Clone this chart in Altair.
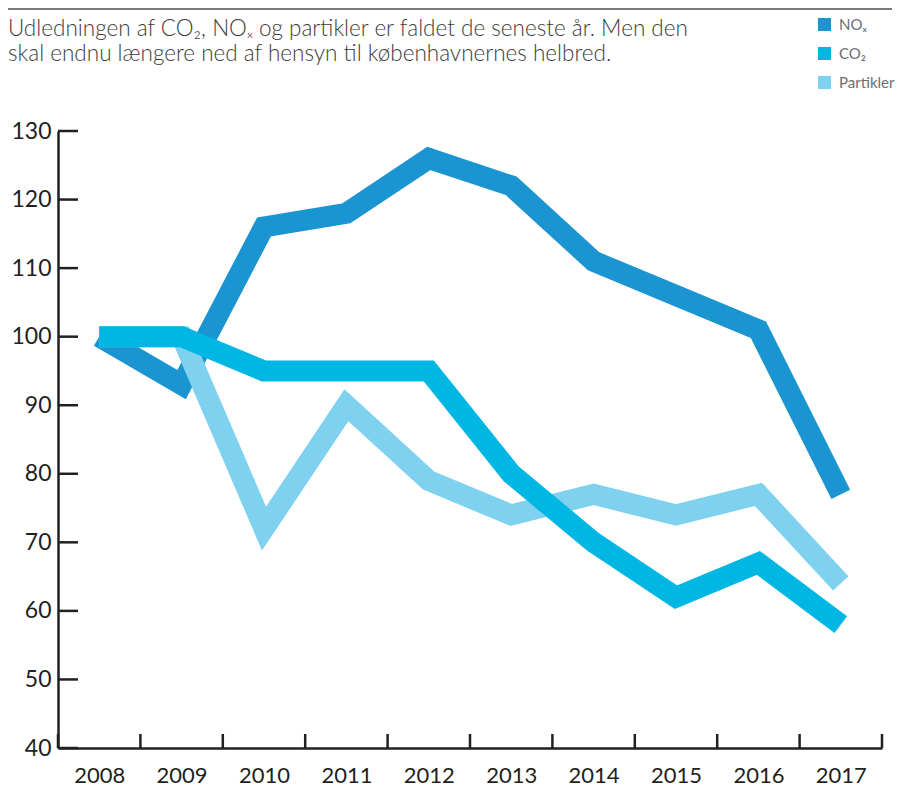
import altair as alt
import pandas as pd

years = [2008, 2009, 2010, 2011, 2012, 2013, 2014, 2015, 2016, 2017]
nox = [100, 93, 116, 118, 126, 122, 111, 106, 101, 77]
co2 = [100, 100, 95, 95, 95, 80, 70, 62, 67, 58]
partikler = [100, 100, 72, 90, 79, 74, 77, 74, 77, 64]

series_names = ["NOₓ", "CO₂", "Partikler"]
series_colors = ["#1b95d1", "#00b7e4", "#7fd2ef"]
y_ticks = [40, 50, 60, 70, 80, 90, 100, 110, 120, 130]
x_edges = [2007.5, 2008.5, 2009.5, 2010.5, 2011.5, 2012.5, 2013.5, 2014.5, 2015.5, 2016.5, 2017.5]

title_lines = [
    "Udledningen af CO₂, NOₓ og partikler er faldet de seneste år. Men den",
    "skal endnu længere ned af hensyn til københavnernes helbred.",
]

rows = []
for name, vals in zip(series_names, [nox, co2, partikler]):
    for yr, v in zip(years, vals):
        rows.append({"year": yr, "value": v, "series": name})
df = pd.DataFrame(rows)

W, H = 824, 617
FONT = "Lato"
AX = "#231f20"

xscale = alt.Scale(domain=[2007.5, 2017.5], nice=False, zero=False)
yscale = alt.Scale(domain=[40, 130], nice=False, zero=False)

x_axis = alt.Axis(values=years, format="d", ticks=False, grid=False, domainColor=AX,
                  domainWidth=2.5, labelFont=FONT, labelFontSize=22, labelColor=AX,
                  labelPadding=17, title=None, labelFlush=False)
y_axis = alt.Axis(values=y_ticks, ticks=False, grid=False, domainColor=AX,
                  domainWidth=2.5, labelFont=FONT, labelFontSize=23, labelColor=AX,
                  labelPadding=7, title=None)

stroke_scale = alt.Scale(domain=series_names, range=series_colors)

def line_layer(name):
    return alt.Chart(df).transform_filter(alt.datum.series == name).mark_line(
        strokeWidth=21, strokeJoin="miter", strokeCap="butt", strokeMiterLimit=10
    ).encode(
        x=alt.X("year:Q", scale=xscale, axis=x_axis),
        y=alt.Y("value:Q", scale=yscale, axis=y_axis),
        stroke=alt.Stroke("series:N", scale=stroke_scale, legend=None),
    )

legend_layer = alt.Chart(df).mark_square(opacity=0).encode(
    x=alt.X("year:Q", scale=xscale, axis=x_axis),
    y=alt.Y("value:Q", scale=yscale, axis=y_axis),
    fill=alt.Fill("series:N", scale=alt.Scale(domain=series_names, range=series_colors),
                  legend=alt.Legend(title=None, orient="none", legendX=759, legendY=-114,
                                    symbolType="square", symbolSize=169, symbolOpacity=1,
                                    symbolStrokeWidth=0, labelFont=FONT, labelFontSize=15,
                                    labelColor="#6d6e71", labelOffset=7, rowPadding=13,
                                    padding=0)),
)

ytick_df = pd.DataFrame({"tick": y_ticks})
ytick_layer = alt.Chart(ytick_df).mark_rule(color=AX, strokeWidth=2.5).encode(
    y=alt.Y("tick:Q", scale=yscale, axis=y_axis),
    x=alt.value(0), x2=alt.value(20),
)

xtick_df = pd.DataFrame({"edge": x_edges})
xtick_layer = alt.Chart(xtick_df).mark_rule(color=AX, strokeWidth=2.5).encode(
    x=alt.X("edge:Q", scale=xscale, axis=x_axis),
    y=alt.value(H), y2=alt.value(H - 14),
)

one = pd.DataFrame({"a": [0]})
title_layer = alt.Chart(one).mark_text(
    text=title_lines, align="left", baseline="alphabetic", font=FONT, fontSize=22.5,
    fontWeight=300, color="#3c3c3b", lineHeight=25,
).encode(x=alt.value(-50), y=alt.value(-95))

top_rule = alt.Chart(one).mark_rule(color="#4d4d4d", strokeWidth=1.5).encode(
    x=alt.value(-50), x2=alt.value(834), y=alt.value(-122)
)

chart = alt.layer(
    legend_layer, ytick_layer, xtick_layer,
    line_layer("NOₓ"), line_layer("Partikler"), line_layer("CO₂"),
    title_layer, top_rule,
).properties(
    width=W, height=H, autosize="none",
    padding={"left": 50, "top": 123, "right": 18, "bottom": 41},
).configure_view(stroke=None)

chart.save("out.html", embed_options={"renderer": "svg", "actions": False})
